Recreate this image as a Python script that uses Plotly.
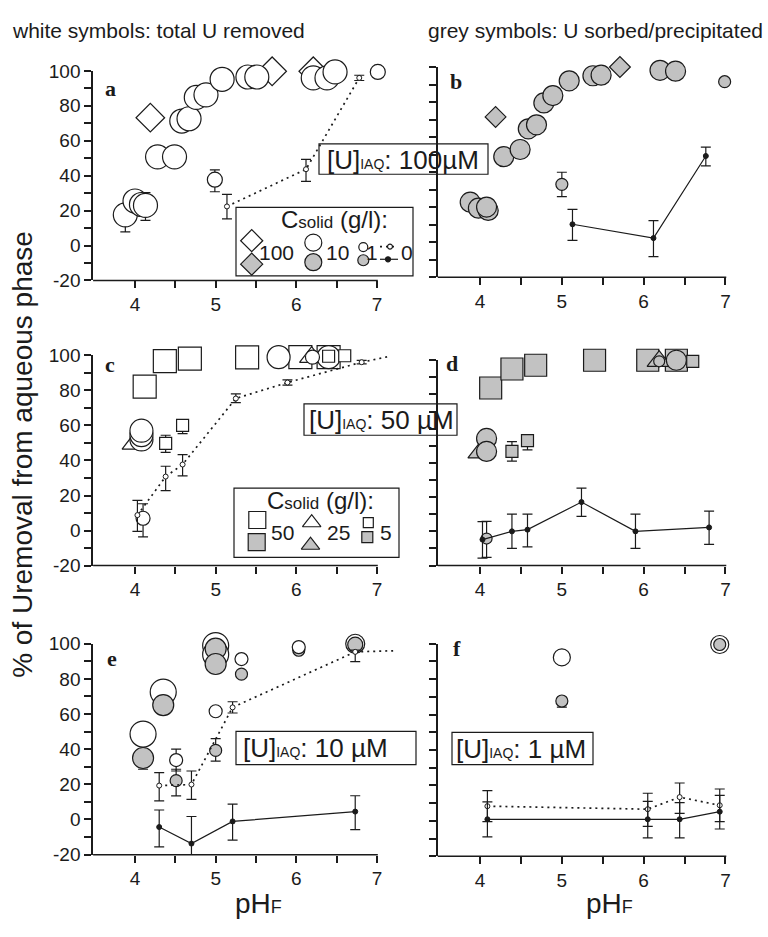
import plotly.graph_objects as go

# ---------------- tick labels ----------------
x_tick_vals = [4, 4.5, 5, 5.5, 6, 6.5, 7]
x_tick_text = ['4', '', '5', '', '6', '', '7']
y_tick_vals = [-20, -10, 0, 10, 20, 30, 40, 50, 60, 70, 80, 90, 100]
y_tick_text = ['-20', '', '0', '', '20', '', '40', '', '60', '', '80', '', '100']

# ---------------- panel a : [U]IAQ 100 uM, white = total U removed ----------------
a_dia_ph = [4.19, 5.70, 6.21]
a_dia_val = [73.2, 99.8, 99.8]
a_c10_ph = [3.88, 4.00, 4.08, 4.13, 4.28, 4.49, 4.58, 4.67, 4.76, 4.88, 5.08, 5.40, 5.51, 6.21, 6.38, 6.48]
a_c10_val = [17.6, 25.5, 23.5, 23.0, 50.8, 50.8, 71.3, 72.6, 84.8, 86.3, 95.2, 96.5, 96.5, 96.0, 96.0, 99.4]
a_c1_ph = [4.99, 7.01]
a_c1_val = [37.7, 99.4]
a_err_ph = [3.88, 4.13, 4.99]
a_err_val = [17.6, 23.0, 37.7]
a_err_up = [5.0, 7.3, 5.6]
a_err_dn = [9.8, 8.6, 6.9]
a_0_ph = [5.14, 6.12, 6.78]
a_0_val = [22.4, 43.7, 96.0]
a_0_up = [6.9, 5.6, 1.5]
a_0_dn = [7.1, 6.9, 1.5]

# ---------------- panel b : [U]IAQ 100 uM, grey = sorbed/precipitated ----------------
b_dia_ph = [4.19, 5.71]
b_dia_val = [71.5, 100.0]
b_c10_ph = [3.88, 3.98, 4.10, 4.08, 4.29, 4.49, 4.59, 4.69, 4.78, 4.89, 5.09, 5.38, 5.48, 6.20, 6.39, 6.49]
b_c10_val = [22.8, 19.4, 18.1, 20.0, 48.8, 52.9, 64.7, 67.0, 79.5, 83.7, 92.1, 95.0, 95.3, 98.1, 97.6, 101.0]
b_c1_ph = [5.00, 6.99]
b_c1_val = [33.0, 91.6]
b_err_ph = [5.00]
b_err_val = [33.0]
b_err_up = [6.9]
b_err_dn = [7.0]
b_0_ph = [5.13, 6.12, 6.76]
b_0_val = [10.2, 2.3, 49.2]
b_0_up = [8.5, 10.0, 5.0]
b_0_dn = [9.2, 10.6, 5.6]

# ---------------- panel c : [U]IAQ 50 uM, white ----------------
c_sq50_ph = [4.12, 4.37, 4.68, 5.39, 6.05, 6.40]
c_sq50_val = [82.2, 96.7, 98.2, 98.9, 99.0, 99.0]
c_tri_ph = [3.99, 6.19]
c_tri_val = [49.5, 99.0]
c_c10_ph = [4.08, 4.08, 4.08, 5.78, 6.40]
c_c10_val = [52.0, 54.5, 57.0, 99.0, 99.0]
c_c1_ph = [4.10, 6.20]
c_c1_val = [7.0, 99.0]
c_sq5_ph = [4.38, 4.59, 6.40, 6.60]
c_sq5_val = [49.8, 60.0, 99.5, 99.8]
c_err_ph = [4.10, 4.38, 4.59]
c_err_val = [7.0, 49.8, 60.0]
c_err_up = [8.3, 4.6, 2.0]
c_err_dn = [10.6, 5.2, 4.7]
c_0_ph = [4.03, 4.38, 4.59, 5.25, 5.89, 6.81]
c_0_val = [8.8, 30.8, 37.7, 75.4, 84.5, 96.1]
c_0_up = [8.4, 5.9, 5.6, 2.6, 1.5, 1.0]
c_0_dn = [9.3, 8.0, 6.5, 2.4, 1.5, 1.0]
c_0_tail_ph = [6.81, 7.16]
c_0_tail_val = [96.1, 99.5]

# ---------------- panel d : [U]IAQ 50 uM, grey ----------------
d_sq50_ph = [4.13, 4.39, 4.68, 5.40, 6.05, 6.40]
d_sq50_val = [83.8, 94.9, 97.1, 100.0, 100.0, 100.0]
d_tri_ph = [4.00, 6.19]
d_tri_val = [46.0, 99.5]
d_c10_ph = [4.08, 4.08, 5.80, 6.40]
d_c10_val = [54.3, 46.7, 100.6, 100.0]
d_c1_ph = [4.08, 6.19]
d_c1_val = [-4.2, 99.4]
d_sq5_ph = [4.39, 4.58, 6.60]
d_sq5_val = [46.7, 53.0, 99.4]
d_err_ph = [4.08, 4.39, 4.58]
d_err_val = [-4.2, 46.7, 53.0]
d_err_up = [10.0, 5.7, 3.6]
d_err_dn = [11.0, 5.7, 5.4]
d_0_ph = [4.03, 4.39, 4.58, 5.24, 5.90, 6.80]
d_0_val = [-4.8, 0.0, 1.0, 17.1, 0.0, 2.3]
d_0_up = [10.5, 10.1, 9.1, 8.2, 10.1, 9.5]
d_0_dn = [10.8, 9.9, 10.1, 8.3, 9.9, 9.9]

# ---------------- panel e : [U]IAQ 10 uM ----------------
e_wc10_ph = [4.10, 4.35, 5.00, 5.00]
e_wc10_val = [48.6, 72.5, 99.0, 93.9]
e_gc10_ph = [4.10, 4.35, 5.00, 5.00]
e_gc10_val = [35.0, 65.1, 97.2, 88.5]
e_gc1_under_ph = [6.03]
e_gc1_under_val = [96.3]
e_wc1_ph = [4.51, 5.00, 5.32, 6.03]
e_wc1_val = [33.8, 61.6, 91.3, 98.1]
e_gc1_ph = [4.51, 5.00, 5.32]
e_gc1_val = [22.1, 39.3, 82.7]
e_ring_w_ph = [6.73]
e_ring_w_val = [100.0]
e_ring_g_ph = [6.73]
e_ring_g_val = [99.5]
e_err_ph = [4.10, 4.51, 4.51, 5.00]
e_err_val = [35.0, 33.8, 22.1, 39.3]
e_err_up = [0.0, 6.2, 6.5, 6.7]
e_err_dn = [6.4, 6.2, 8.7, 6.1]
e_0w_ph = [4.30, 4.70, 5.21, 6.73]
e_0w_val = [19.3, 19.9, 63.8, 95.4]
e_0w_up = [7.4, 7.7, 3.2, 1.0]
e_0w_dn = [8.7, 8.4, 3.2, 5.6]
e_0w_tail_ph = [6.73, 7.20]
e_0w_tail_val = [95.4, 96.0]
e_0g_ph = [4.30, 4.70, 5.21, 6.73]
e_0g_val = [-4.3, -13.7, -1.1, 4.5]
e_0g_up = [9.7, 15.4, 9.8, 9.0]
e_0g_dn = [11.3, 13.3, 10.6, 10.3]

# ---------------- panel f : [U]IAQ 1 uM ----------------
f_wc_ph = [5.00]
f_wc_val = [92.3]
f_gc_ph = [5.00]
f_gc_val = [67.7]
f_ring_w_ph = [6.93]
f_ring_w_val = [99.6]
f_ring_g_ph = [6.93]
f_ring_g_val = [99.6]
f_err_ph = [5.00]
f_err_val = [67.7]
f_err_up = [0.0]
f_err_dn = [3.5]
f_0w_ph = [4.09, 6.05, 6.44, 6.93]
f_0w_val = [8.3, 6.6, 13.4, 8.8]
f_0w_up = [8.8, 9.0, 8.0, 9.2]
f_0w_dn = [8.7, 9.7, 9.2, 9.2]
f_0g_ph = [4.09, 6.05, 6.44, 6.93]
f_0g_val = [0.9, 0.9, 0.9, 5.2]
f_0g_up = [9.8, 10.1, 9.4, 9.2]
f_0g_dn = [9.9, 10.5, 10.5, 9.8]

# ---------------- styling ----------------
W, H = 768, 937
INK = '#1b1b1b'
GREY = '#c2c2c2'
WHITE = '#ffffff'
SANS = 'Liberation Sans, Arial, Helvetica, sans-serif'
SERIF = 'Liberation Serif, Times New Roman, serif'
DOT = '2px,4px'

fig = go.Figure()


def marks(k, xs, ys, symbol, size, fill, lw=1.2):
    fig.add_trace(go.Scatter(
        x=xs, y=ys, xaxis='x' + k, yaxis='y' + k, mode='markers',
        marker=dict(symbol=symbol, size=size, color=fill, line=dict(color=INK, width=lw)),
        cliponaxis=False, showlegend=False, hoverinfo='skip'))


def errs(k, xs, ys, up, dn):
    fig.add_trace(go.Scatter(
        x=xs, y=ys, xaxis='x' + k, yaxis='y' + k, mode='markers',
        marker=dict(size=1, color='rgba(0,0,0,0)'),
        error_y=dict(type='data', symmetric=False, array=up, arrayminus=dn,
                     color=INK, thickness=1.2, width=5),
        cliponaxis=False, showlegend=False, hoverinfo='skip'))


def zero(k, xs, ys, up, dn, white):
    fig.add_trace(go.Scatter(
        x=xs, y=ys, xaxis='x' + k, yaxis='y' + k, mode='lines+markers',
        line=dict(color=INK, width=1.7 if white else 1.2, dash=DOT if white else 'solid'),
        marker=dict(symbol='circle', size=5, color=WHITE if white else INK,
                    line=dict(color=INK, width=1)),
        error_y=dict(type='data', symmetric=False, array=up, arrayminus=dn,
                     color=INK, thickness=1.2, width=5),
        cliponaxis=False, showlegend=False, hoverinfo='skip'))


def tail(k, xs, ys):
    fig.add_trace(go.Scatter(
        x=xs, y=ys, xaxis='x' + k, yaxis='y' + k, mode='lines',
        line=dict(color=INK, width=1.7, dash=DOT),
        showlegend=False, hoverinfo='skip'))


# panel a
errs('', a_err_ph, a_err_val, a_err_up, a_err_dn)
marks('', a_dia_ph, a_dia_val, 'diamond', 22, WHITE)
marks('', a_c10_ph, a_c10_val, 'circle', 24, WHITE)
marks('', a_c1_ph, a_c1_val, 'circle', 15, WHITE)
zero('', a_0_ph, a_0_val, a_0_up, a_0_dn, True)

# panel b
errs('2', b_err_ph, b_err_val, b_err_up, b_err_dn)
marks('2', b_dia_ph, b_dia_val, 'diamond', 16, GREY)
marks('2', b_c10_ph, b_c10_val, 'circle', 20, GREY)
marks('2', b_c1_ph, b_c1_val, 'circle', 12, GREY)
zero('2', b_0_ph, b_0_val, b_0_up, b_0_dn, False)

# panel c
errs('3', c_err_ph, c_err_val, c_err_up, c_err_dn)
marks('3', c_sq50_ph, c_sq50_val, 'square', 23, WHITE)
marks('3', c_tri_ph, c_tri_val, 'triangle-up', 21, WHITE)
marks('3', c_c10_ph, c_c10_val, 'circle', 23, WHITE)
marks('3', c_c1_ph, c_c1_val, 'circle', 14, WHITE)
marks('3', c_sq5_ph, c_sq5_val, 'square', 12, WHITE)
tail('3', c_0_tail_ph, c_0_tail_val)
zero('3', c_0_ph, c_0_val, c_0_up, c_0_dn, True)

# panel d
errs('4', d_err_ph, d_err_val, d_err_up, d_err_dn)
marks('4', d_sq50_ph, d_sq50_val, 'square', 22, GREY)
marks('4', d_tri_ph, d_tri_val, 'triangle-up', 21, GREY)
marks('4', d_c10_ph, d_c10_val, 'circle', 20, GREY)
marks('4', d_c1_ph, d_c1_val, 'circle', 11, GREY)
marks('4', d_sq5_ph, d_sq5_val, 'square', 12, GREY)
zero('4', d_0_ph, d_0_val, d_0_up, d_0_dn, False)

# panel e
errs('5', e_err_ph, e_err_val, e_err_up, e_err_dn)
marks('5', e_wc10_ph, e_wc10_val, 'circle', 26, WHITE)
marks('5', e_gc10_ph, e_gc10_val, 'circle', 21, GREY)
marks('5', e_gc1_under_ph, e_gc1_under_val, 'circle', 12, GREY)
marks('5', e_wc1_ph, e_wc1_val, 'circle', 13, WHITE)
marks('5', e_gc1_ph, e_gc1_val, 'circle', 12, GREY)
marks('5', e_ring_w_ph, e_ring_w_val, 'circle', 19, WHITE)
marks('5', e_ring_g_ph, e_ring_g_val, 'circle', 15, GREY)
tail('5', e_0w_tail_ph, e_0w_tail_val)
zero('5', e_0w_ph, e_0w_val, e_0w_up, e_0w_dn, True)
zero('5', e_0g_ph, e_0g_val, e_0g_up, e_0g_dn, False)

# panel f
errs('6', f_err_ph, f_err_val, f_err_up, f_err_dn)
marks('6', f_wc_ph, f_wc_val, 'circle', 17, WHITE)
marks('6', f_gc_ph, f_gc_val, 'circle', 12, GREY)
marks('6', f_ring_w_ph, f_ring_w_val, 'circle', 18, WHITE)
marks('6', f_ring_g_ph, f_ring_g_val, 'circle', 12, GREY)
zero('6', f_0w_ph, f_0w_val, f_0w_up, f_0w_dn, True)
zero('6', f_0g_ph, f_0g_val, f_0g_up, f_0g_dn, False)

# ---------------- legend keys (page-pixel overlay axes) ----------------
def key(xs, ys, symbol, size, fill):
    fig.add_trace(go.Scatter(
        x=xs, y=ys, xaxis='x7', yaxis='y7', mode='markers',
        marker=dict(symbol=symbol, size=size, color=fill, line=dict(color=INK, width=1.2)),
        cliponaxis=False, showlegend=False, hoverinfo='skip'))


def keyline(xs, ys, white):
    fig.add_trace(go.Scatter(
        x=xs, y=ys, xaxis='x7', yaxis='y7', mode='lines',
        line=dict(color=INK, width=1.7 if white else 1.2, dash=DOT if white else 'solid'),
        showlegend=False, hoverinfo='skip'))


key([251.7], [236], 'diamond', 17, WHITE)
key([251.7], [260], 'diamond', 17, GREY)
key([313.3], [238], 'circle', 17, WHITE)
key([313.3], [258], 'circle', 17, GREY)
key([363.3], [242.5], 'circle', 9, WHITE)
key([363.3], [256], 'circle', 11, GREY)
keyline([380, 398], [242, 242], True)
keyline([380, 398], [255, 255], False)
key([390], [242], 'circle', 5, WHITE)
key([388], [255], 'circle', 5, INK)

key([257.3], [521.7], 'square', 17, WHITE)
key([256.7], [544.3], 'square', 17, GREY)
key([311.7], [524.5], 'triangle-up', 16, WHITE)
key([310.5], [547.5], 'triangle-up', 16, GREY)
key([368.3], [524.3], 'square', 10, WHITE)
key([367.3], [539.3], 'square', 11, GREY)

# ---------------- axes ----------------
LEFT = (93.05, 401.2)
RIGHT = (437.5, 750.0)
geo = [
    ('', LEFT, 62.3, 276.7, True),
    ('2', RIGHT, 58.3, 273.3, False),
    ('3', LEFT, 353.3, 568.3, True),
    ('4', RIGHT, 358.3, 568.3, False),
    ('5', LEFT, 648.3, 864.0, True),
    ('6', RIGHT, 648.3, 865.7, False),
]

layout = dict(
    width=W, height=H, margin=dict(l=0, r=0, t=0, b=0, pad=0),
    paper_bgcolor='white', plot_bgcolor='rgba(0,0,0,0)', showlegend=False,
    xaxis7=dict(domain=[0, 1], range=[0, W], anchor='y7', visible=False, fixedrange=True),
    yaxis7=dict(domain=[0, 1], range=[H, 0], anchor='x7', visible=False, fixedrange=True),
)
shapes = []
for k, (xl, xr), yt, yb, labels in geo:
    layout['xaxis' + k] = dict(
        domain=[xl / W, xr / W], range=[3.48, 7.3], anchor='y' + k,
        showline=False, showgrid=False, zeroline=False,
        ticks='outside', ticklen=7, tickwidth=1.5, tickcolor=INK,
        tickmode='array', tickvals=x_tick_vals, ticktext=x_tick_text,
        tickfont=dict(family=SANS, size=19, color=INK), fixedrange=True)
    layout['yaxis' + k] = dict(
        domain=[1 - yb / H, 1 - yt / H], range=[-20, 100], anchor='x' + k,
        showline=True, linewidth=1.5, linecolor=INK, showgrid=False, zeroline=False,
        ticks='outside', ticklen=7, tickwidth=1.5, tickcolor=INK,
        tickmode='array', tickvals=y_tick_vals,
        ticktext=y_tick_text if labels else [''] * len(y_tick_vals),
        tickfont=dict(family=SANS, size=19, color=INK), fixedrange=True)
    shapes.append(dict(type='line', xref='x' + k, yref='y' + k + ' domain',
                       x0=3.48, x1=7.01, y0=0, y1=0,
                       line=dict(color=INK, width=1.5), layer='above'))


def box(l, t, r, b):
    shapes.append(dict(type='rect', xref='paper', yref='paper',
                       x0=l / W, x1=r / W, y0=1 - b / H, y1=1 - t / H,
                       line=dict(color=INK, width=1.2), fillcolor='white', layer='below'))


box(319, 137, 488, 168)
box(304, 403, 457, 435)
box(236, 738, 416, 772)
box(452, 739, 593, 772)
box(236, 202, 413, 272)
box(234, 489, 399, 560)
layout['shapes'] = shapes

ann = []


def text(x, y, s, size, xanchor='center', family=SANS, angle=0):
    ann.append(dict(x=x / W, y=1 - y / H, xref='paper', yref='paper', text=s,
                    showarrow=False, xanchor=xanchor, yanchor='middle', textangle=angle,
                    font=dict(family=family, size=size, color=INK)))


text(10, 21, 'white symbols: total U removed', 21, 'left')
text(765, 21, 'grey symbols: U sorbed/precipitated', 21, 'right')
text(23, 455, '% of Uremoval from aqueous phase', 28, angle=-90)
text(258, 914, "pH<span style='font-size:18px'>F</span>", 28)
text(609, 914, "pH<span style='font-size:18px'>F</span>", 28)
for lx, ly, s in [(110, 80, 'a'), (456, 73, 'b'), (110, 363, 'c'),
                  (452, 362, 'd'), (112, 663, 'e'), (457, 653, 'f')]:
    text(lx, ly, '<b>' + s + '</b>', 22, family=SERIF)

sub = "<span style='font-size:14px'>IAQ</span>"
text(325, 153, '[U]' + sub + ': 100µM', 26, 'left')
text(307, 419.5, '[U]' + sub + ': 50 µM', 26, 'left')
text(241, 755, '[U]' + sub + ': 10 µM', 26, 'left')
text(454, 755.5, '[U]' + sub + ': 1 µM', 26, 'left')

ctitle = "C<span style='font-size:17px'>solid</span> (g/l):"
text(334, 214, ctitle, 24)
text(276, 248, '100', 21)
text(337, 248, '10', 21)
text(371.5, 248, '1', 21)
text(407, 248, '0', 21)
text(320, 502, ctitle, 24)
text(282.5, 534, '50', 21)
text(338, 534, '25', 21)
text(386, 534, '5', 21)
layout['annotations'] = ann

fig.update_layout(**layout)
fig.write_html("out.html", config={'displayModeBar': False},
               post_script="document.body.style.margin='0';")
